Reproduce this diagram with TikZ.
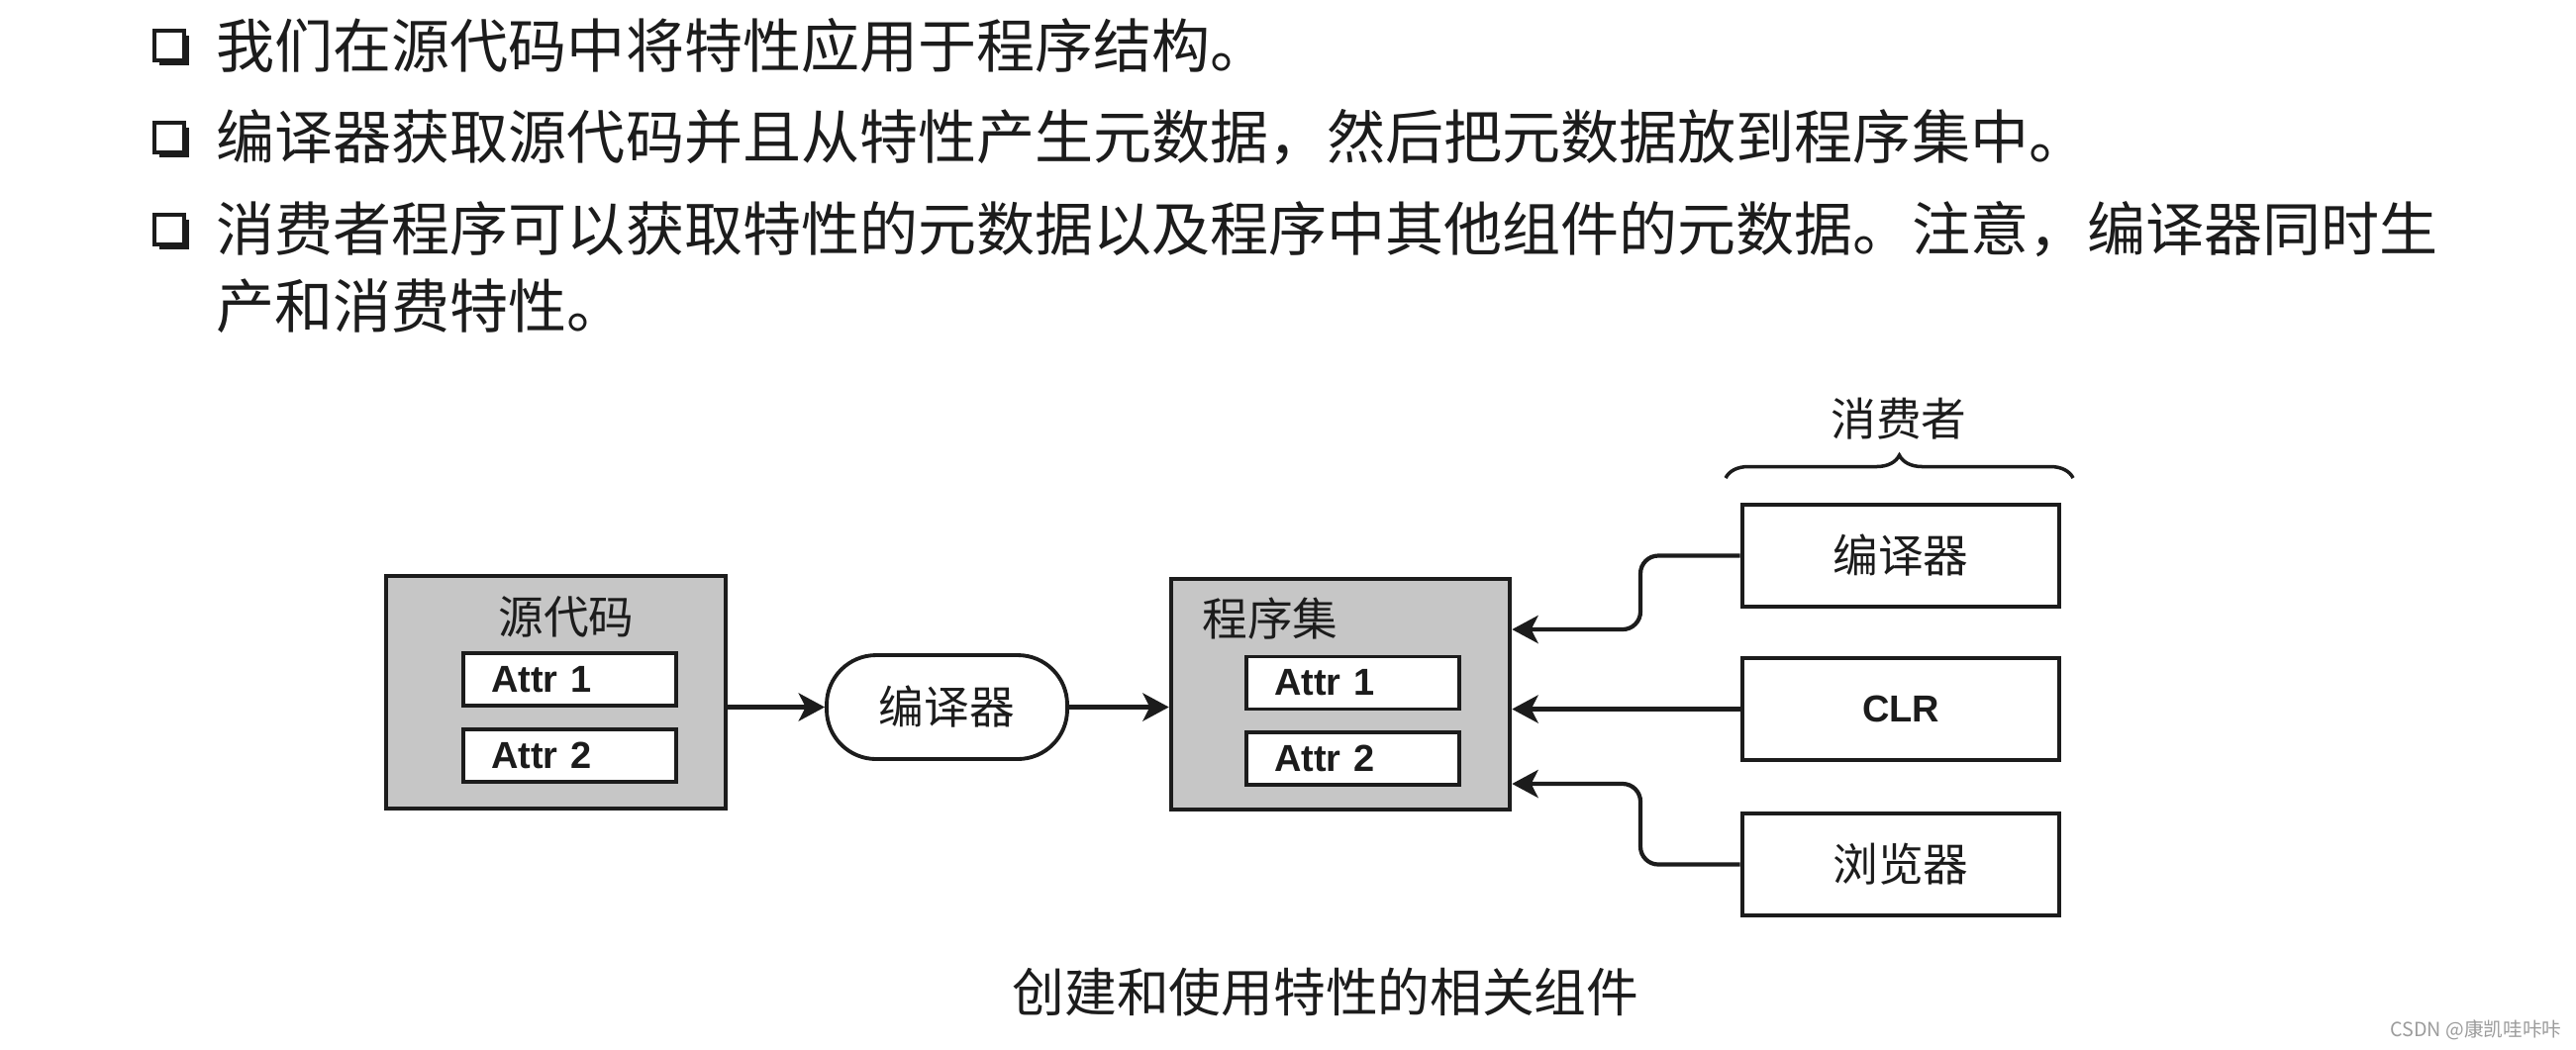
\documentclass[tikz,border=0pt]{standalone}
\usepackage{fontspec}
\setmainfont{Liberation Sans}
\newfontfamily\cjk{Noto Sans CJK SC}
\usetikzlibrary{arrows.meta, positioning, shadows, decorations.pathreplacing}

\definecolor{ink}{HTML}{1C1C1C}
\definecolor{panelgray}{HTML}{C6C6C6}
\definecolor{faint}{HTML}{9C9C9C}

\tikzset{
  >={Stealth[length=7.5pt, width=8pt, inset=2pt]},
  %
  panel/.style={draw=ink, line width=1.3pt, fill=panelgray, inner sep=0pt},
  attr/.style={draw=ink, line width=1.1pt, fill=white, text=ink,
               font=\bfseries\fontsize{10.8pt}{12pt}\selectfont,
               minimum height=5.3mm, inner xsep=2.8mm, inner ysep=0pt,
               text width=15.9mm, align=left},
  tool/.style={draw=ink, line width=1.1pt, fill=white, rounded corners=5mm,
               minimum width=24.3mm, minimum height=10.5mm, text=ink,
               font=\cjk\fontsize{13pt}{15pt}\selectfont},
  user/.style={draw=ink, line width=1.3pt, fill=white, text=ink,
               minimum width=32mm, minimum height=10.3mm,
               font=\cjk\fontsize{13pt}{15pt}\selectfont},
  %
  lbl/.style={text=ink, inner sep=0pt, font=\cjk\fontsize{13pt}{15pt}\selectfont},
  bodytext/.style={text=ink, inner sep=0pt, anchor=west,
                   font=\cjk\fontsize{16.8pt}{20pt}\selectfont},
  bullet/.style={draw=ink, line width=1.2pt, fill=white, minimum size=3mm,
                 inner sep=0pt,
                 drop shadow={shadow xshift=0.5mm, shadow yshift=-0.5mm,
                              fill=ink, opacity=1}},
  %
  flow/.style={draw=ink, line width=1.2pt, ->},
  curly/.style={draw=ink, line width=1pt, decorate,
                decoration={brace, amplitude=2.3mm}},
}

\begin{document}
\begin{tikzpicture}[x=0.1mm, y=-0.1mm]
  \useasboundingbox[fill=white] (0,0) rectangle (2602,1060);

  % =======================================================================
  % bullet list above the figure
  % =======================================================================
  \foreach \i/\y in {1/46, 2/139, 3/232} {
    \node[bullet] (b\i) at (171,\y) {};
  }
  \node[bodytext] (t1) at (218,46) {我们在源代码中将特性应用于程序结构。};
  \node[bodytext] (t2) at (218,139) {编译器获取源代码并且从特性产生元数据，然后把元数据放到程序集中。};
  \node[bodytext] (t3) at (218,232) {消费者程序可以获取特性的元数据以及程序中其他组件的元数据。注意，编译器同时生};
  \node[bodytext] (t3b) at (218,309) {产和消费特性。};

  % =======================================================================
  % source -> compiler -> assembly
  % =======================================================================
  \node[panel, minimum width=34.3mm, minimum height=23.5mm] (src) at (561.5,699.5) {};
  \node[lbl] (srclbl) at (572,623) {源代码};
  \node[attr] (sa1) at (575.5,686.5) {Attr 1};
  \node[attr] (sa2) at (575.5,763.5) {Attr 2};

  \node[tool] (cmp) at (956.5,714.5) {编译器};

  \node[panel, minimum width=34.2mm, minimum height=23.3mm] (asm) at (1354,701.5) {};
  \node[lbl] (asmlbl) at (1283,625) {程序集};
  \node[attr] (aa1) at (1366.5,690) {Attr 1};
  \node[attr] (aa2) at (1366.5,766.5) {Attr 2};

  \draw[flow] (src.east |- cmp.west) -- (cmp.west);
  \draw[flow] (cmp.east) -- (asm.west |- cmp.east);

  % =======================================================================
  % consumers
  % =======================================================================
  \node[lbl] (usrlbl) at (1918,423) {消费者};
  \coordinate (bl) at (1743,483);
  \coordinate (br) at (2094,483);
  \draw[curly] (bl) -- (br);

  \node[user] (uc) at (1920,561.5) {编译器};
  \node[user, font=\bfseries\fontsize{10.8pt}{12pt}\selectfont] (clr) at (1920,716.5) {CLR};
  \node[user] (ub) at (1920,873.5) {浏览器};

  \coordinate (j1) at (1657,636);
  \coordinate (j3) at (1657,792);
  \draw[flow, rounded corners=1.8mm] (uc.west) -| (j1) -- (asm.east |- j1);
  \draw[flow] (clr.west) -- (asm.east |- clr.west);
  \draw[flow, rounded corners=1.8mm] (ub.west) -| (j3) -- (asm.east |- j3);

  % caption and mark
  \node[lbl, font=\cjk\fontsize{15pt}{17pt}\selectfont] (cap) at (1339,1002)
    {创建和使用特性的相关组件};
  \node[text=faint, inner sep=0pt, font=\cjk\fontsize{5.6pt}{7pt}\selectfont]
    (wm) at (2501,1041) {CSDN @康凯哇咔咔};

\end{tikzpicture}
\end{document}
